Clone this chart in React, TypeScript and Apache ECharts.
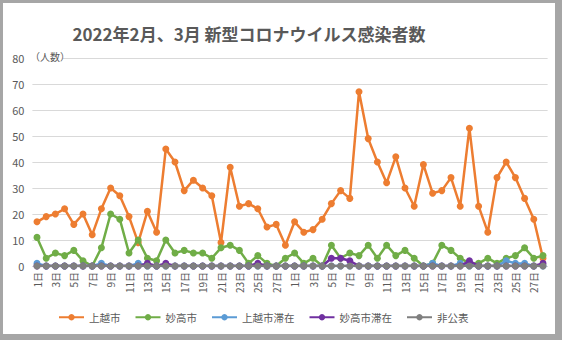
import React, { useEffect, useRef } from "react";
import * as echarts from "echarts";

const febDays = ["1日","2日","3日","4日","5日","6日","7日","8日","9日","10日","11日","12日","13日","14日","15日","16日","17日","18日","19日","20日","21日","22日","23日","24日","25日","26日","27日","28日"];
const marDays = ["1日","2日","3日","4日","5日","6日","7日","8日","9日","10日","11日","12日","13日","14日","15日","16日","17日","18日","19日","20日","21日","22日","23日","24日","25日","26日","27日","28日"];

const joetsu = [17,19,20,22,16,20,12,22,30,27,19,9,21,13,45,40,29,33,30,27,9,38,23,24,22,15,16,8,
  17,13,14,18,24,29,26,67,49,40,32,42,30,23,39,28,29,34,23,53,23,13,34,40,34,26,18,3];
const myoko = [11,3,5,4,6,2,0,7,20,18,5,10,3,2,10,5,6,5,5,3,7,8,6,1,4,1,0,3,
  5,1,3,0,8,3,5,4,8,3,8,4,6,3,0,1,8,6,3,1,1,3,1,3,4,7,3,4];
const joetsuStay = [1,0,0,0,0,0,0,1,0,0,0,1,0,0,0,0,0,0,0,0,0,0,0,0,0,0,0,0,
  0,0,0,0,0,0,0,0,0,0,0,0,0,0,0,1,0,0,1,0,0,0,0,2,1,1,0,0];
const myokoStay = [0,0,0,0,0,0,0,0,0,0,0,0,1,0,1,0,0,0,0,0,0,0,0,0,1,0,0,0,
  0,0,0,0,3,3,2,0,0,0,0,0,0,0,0,0,0,0,0,2,0,0,0,0,0,0,0,1];
const undisclosed = [0,0,0,0,0,0,0,0,0,0,0,0,0,0,0,0,0,0,0,0,0,0,0,0,0,0,0,0,
  0,0,0,0,0,0,0,0,0,0,0,0,0,0,0,0,0,0,0,0,0,0,0,0,0,0,0,0];

const seriesNames = ["上越市", "妙高市", "上越市滞在", "妙高市滞在", "非公表"];
const seriesColors = ["#ED7D31", "#70AD47", "#5B9BD5", "#7030A0", "#7F7F7F"];
const seriesData = [joetsu, myoko, joetsuStay, myokoStay, undisclosed];

const titleText = "2022年2月、3月 新型コロナウイルス感染者数";
const unitText = "（人数）";

const FONT = "'Noto Sans CJK JP', 'Noto Sans', sans-serif";
const TXT = "#595959";

export default function App() {
  const ref = useRef<HTMLDivElement>(null);
  useEffect(() => {
    if (!ref.current) return;
    const chart = echarts.init(ref.current, null, { renderer: "svg" });
    const categories = [
      ...febDays.map((d) => "2月" + d),
      ...marDays.map((d) => "3月" + d),
    ];
    chart.setOption({
      animation: false,
      textStyle: { fontFamily: FONT },
      grid: { left: 29.4, right: 7.4, top: 55, bottom: 68, containLabel: false },
      graphic: [
        {
          type: "text",
          x: 246,
          y: 30,
          style: {
            text: titleText,
            fontFamily: FONT,
            fontSize: 17,
            fontWeight: "bold",
            fill: TXT,
            align: "center",
            verticalAlign: "middle",
          },
          z: 10,
        },
        {
          type: "rect",
          shape: { x: 26, y: 46, width: 34, height: 14 },
          style: { fill: "#ffffff" },
          z: 9,
        },
        {
          type: "text",
          x: 27,
          y: 53,
          style: {
            text: unitText,
            fontFamily: FONT,
            fontSize: 10,
            fill: TXT,
            align: "left",
            verticalAlign: "middle",
          },
          z: 10,
        },
      ],
      legend: {
        left: 55,
        top: 309,
        padding: 0,
        itemWidth: 25,
        itemHeight: 8,
        itemGap: 14,
        textStyle: { fontFamily: FONT, fontSize: 10.5, color: TXT },
        data: seriesNames,
      },
      xAxis: {
        type: "category",
        data: categories,
        boundaryGap: true,
        axisLine: { show: true, lineStyle: { color: "#D9D9D9", width: 1 } },
        axisTick: { show: false },
        axisLabel: {
          interval: 1,
          rotate: 90,
          fontSize: 10,
          color: TXT,
          fontFamily: FONT,
          margin: 6,
          formatter: (v: string) => v.replace(/^\d+月/, ""),
        },
      },
      yAxis: {
        type: "value",
        min: 0,
        max: 80,
        interval: 10,
        axisLine: { show: false },
        axisTick: { show: false },
        axisLabel: { fontSize: 11, color: TXT, fontFamily: FONT, margin: 8 },
        splitLine: { lineStyle: { color: "#D9D9D9", width: 1 } },
      },
      series: seriesNames.map((name, i) => ({
        name,
        type: "line",
        data: seriesData[i],
        symbol: "circle",
        symbolSize: 7,
        showSymbol: true,
        showAllSymbol: true,
        lineStyle: { color: seriesColors[i], width: 2.5 },
        itemStyle: { color: seriesColors[i] },
        z: 2 + i,
      })),
    });
    return () => chart.dispose();
  }, []);

  return (
    <div
      style={{
        position: "fixed",
        left: 0,
        top: 0,
        width: 562,
        height: 340,
        background: "#A6A6A6",
      }}
    >
      <div
        ref={ref}
        style={{
          position: "absolute",
          left: 3,
          top: 3,
          width: 552,
          height: 331,
          background: "#ffffff",
        }}
      />
    </div>
  );
}
